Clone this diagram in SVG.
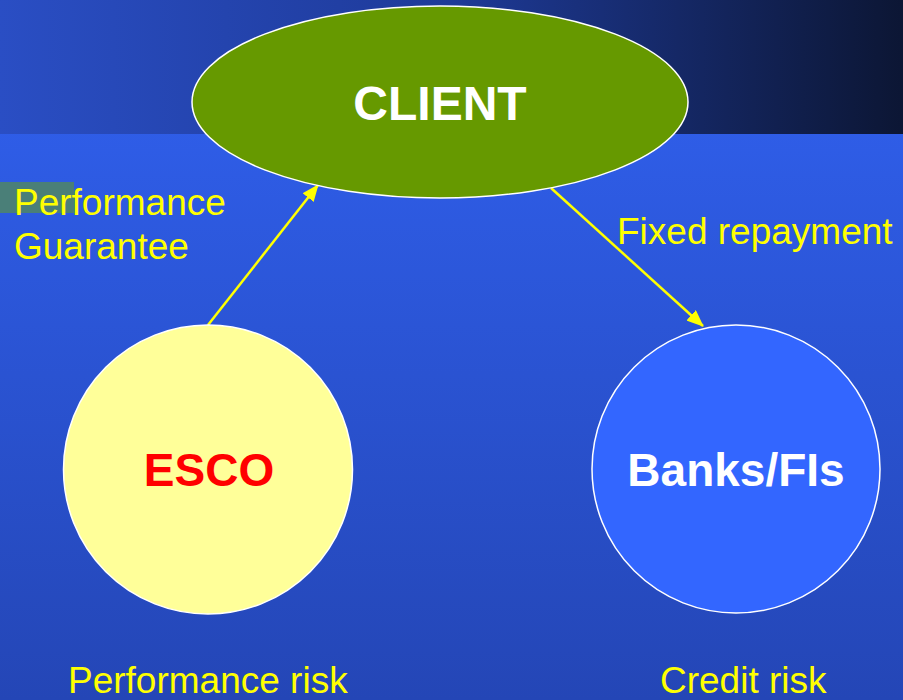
<svg xmlns="http://www.w3.org/2000/svg" width="903" height="700" viewBox="0 0 903 700">
<defs>
<linearGradient id="band" x1="0" y1="0" x2="1" y2="0">
<stop offset="0" stop-color="#2a4ec4"/>
<stop offset="0.5" stop-color="#1e3a98"/>
<stop offset="1" stop-color="#0c1634"/>
</linearGradient>
<linearGradient id="bg" x1="0" y1="0" x2="0" y2="1">
<stop offset="0" stop-color="#3162f2"/>
<stop offset="1" stop-color="#2446b6"/>
</linearGradient>
<marker id="arr" markerWidth="17" markerHeight="14" refX="16" refY="7" orient="auto" markerUnits="userSpaceOnUse">
<path d="M0,0 L17,7 L0,14 Z" fill="#ffff00"/>
</marker>
<style>
.node{stroke:#ffffff;stroke-width:1.5}
.big{font-family:"Liberation Sans",Arial,sans-serif;font-weight:bold;text-anchor:middle}
.lbl{font-family:"Liberation Sans",Arial,sans-serif;font-size:37px;fill:#ffff00}
.conn{stroke:#ffff00;stroke-width:2.5;fill:none;marker-end:url(#arr)}
</style>
</defs>
<rect x="0" y="0" width="903" height="700" fill="url(#bg)"/>
<rect x="0" y="0" width="903" height="134" fill="url(#band)"/>
<rect x="0" y="182" width="74" height="31" fill="#4a7f78"/>
<g id="connectors">
<line class="conn" x1="208" y1="325" x2="318" y2="185"/>
<line class="conn" x1="551" y1="188" x2="703" y2="326"/>
</g>
<g id="client">
<ellipse class="node" cx="440" cy="102" rx="248" ry="96" fill="#669900"/>
<text class="big" x="440" y="120" font-size="48" fill="#ffffff">CLIENT</text>
</g>
<g id="esco">
<circle class="node" cx="208" cy="469.5" r="144.5" fill="#ffff99"/>
<text class="big" x="209" y="486" font-size="46" fill="#ff0000">ESCO</text>
</g>
<g id="banks">
<circle class="node" cx="736" cy="469" r="144" fill="#3366ff"/>
<text class="big" x="736" y="486" font-size="46" fill="#ffffff">Banks/FIs</text>
</g>
<g id="labels">
<text class="lbl" x="14" y="215">Performance</text>
<text class="lbl" x="14" y="259">Guarantee</text>
<text class="lbl" x="617" y="244">Fixed repayment</text>
<text class="lbl" x="68" y="693">Performance risk</text>
<text class="lbl" x="660" y="693">Credit risk</text>
</g>
</svg>
